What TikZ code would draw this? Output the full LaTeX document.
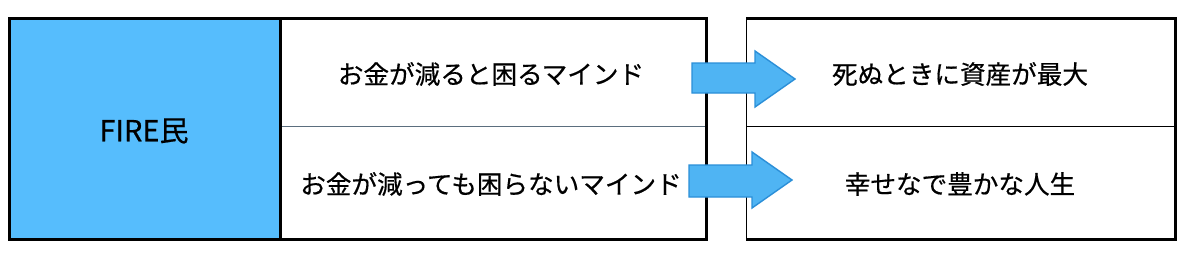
\documentclass[tikz,border=0pt]{standalone}
\usepackage{fontspec}
\setmainfont{Noto Sans CJK JP}[FakeBold=0.5]
\definecolor{cellblue}{HTML}{56BDFD}
\definecolor{arrowfill}{HTML}{4FB4F3}
\definecolor{arrowedge}{HTML}{2B8FD8}
\definecolor{divline}{HTML}{5B6E7E}
\tikzset{
  lbl/.style={inner sep=0pt, font=\fontsize{25.6}{30}\selectfont, text=black},
  thick box/.style={line width=3pt, draw=black},
  blockarrow/.style={fill=arrowfill, draw=arrowedge, line width=1.4pt, line join=miter},
}
\begin{document}
\begin{tikzpicture}[x=1pt,y=-1pt]
\useasboundingbox (0,0) rectangle (1200,273);
\fill[white] (0,0) rectangle (1200,273);
% left table
\fill[cellblue] (9.5,18.5) rectangle (280,239.5);
\draw[divline, line width=1pt] (281,126) -- (705,126);
\draw[thick box] (9.5,18.5) rectangle (706,239.5);
\draw[thick box] (280,18.5) -- (280,239.5);
% right table
\draw[black, line width=1pt] (1175.5,126) -- (746,126);
\draw[black, line width=1pt] (746,18.5) -- (746,239.5);
\draw[thick box] (746,18.5) -- (1175.5,18.5) -- (1175.5,239.5) -- (746,239.5);
% texts
\node[lbl, font=\fontsize{29}{34}\selectfont] (fire) at (144,131) {FIRE民};
\node[lbl] (m1) at (491,74) {お金が減ると困るマインド};
\node[lbl] (m2) at (491,184) {お金が減っても困らないマインド};
\node[lbl] (r1) at (960,74) {死ぬときに資産が最大};
\node[lbl] (r2) at (960,184) {幸せなで豊かな人生};
% arrows
\draw[blockarrow] (692,63) -- (755,63) -- (755,51) -- (795,79) -- (755,107) -- (755,93) -- (692,93) -- cycle;
\draw[blockarrow] (689,165) -- (752,165) -- (752,152) -- (792,180) -- (752,208) -- (752,197) -- (689,197) -- cycle;
\end{tikzpicture}
\end{document}
